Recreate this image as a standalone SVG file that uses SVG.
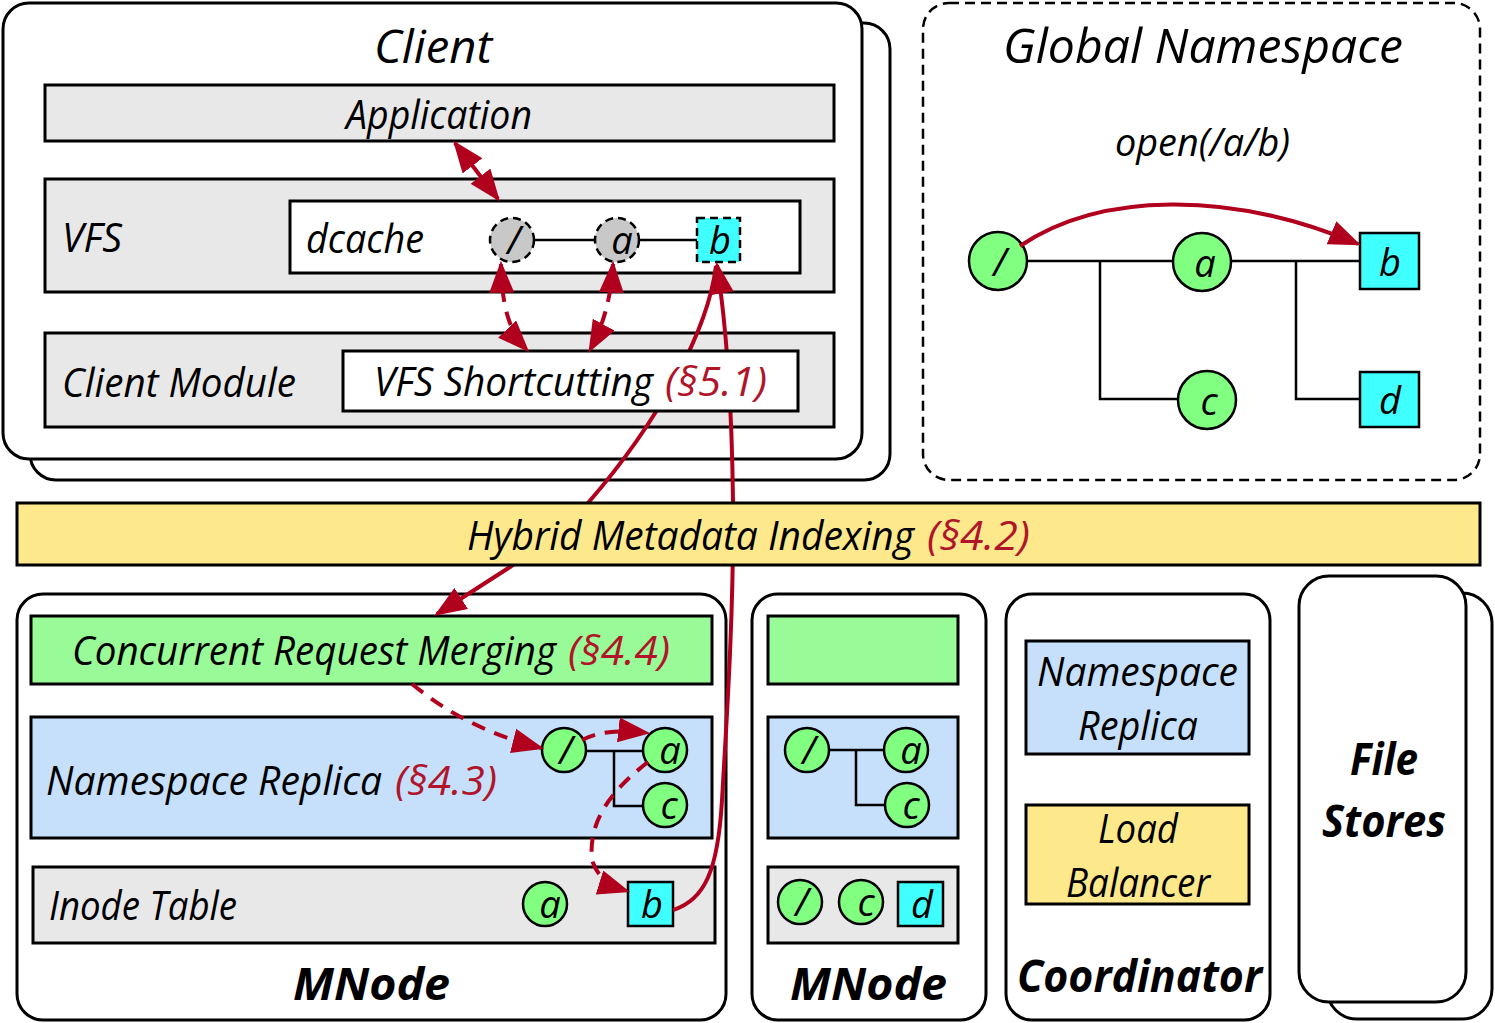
<svg xmlns="http://www.w3.org/2000/svg" width="1495" height="1023" viewBox="0 0 1495 1023">
<defs>
<style>
.t{font-family:"Open Sans","Lato","DejaVu Sans",sans-serif;font-style:italic;fill:#000}
.r{fill:#b0152a}
.bd{font-weight:bold}
.card{fill:#fff;stroke:#000;stroke-width:3}
.bar{stroke:#000;stroke-width:3}
.gray{fill:#e8e8e8}
.green{fill:#98fb98}
.blue{fill:#c6e0fb}
.yellow{fill:#fde98c}
.wh{fill:#fff}
.nd{fill:#80ff80;stroke:#000;stroke-width:2.5}
.sq{fill:#40ffff;stroke:#000;stroke-width:2.5}
.cnd{fill:#c8c8c8;stroke:#000;stroke-width:2.5;stroke-dasharray:8 5}
.csq{fill:#40ffff;stroke:#000;stroke-width:2.5;stroke-dasharray:8 5}
.ln{stroke:#000;stroke-width:2.5;fill:none}
.arr{stroke:#b0001e;stroke-width:4;fill:none}
.dash{stroke-dasharray:14 10}
.lt{font-size:38px;text-anchor:middle}
</style>
<marker id="ah" viewBox="0 0 10 10" refX="9" refY="5" markerUnits="userSpaceOnUse" markerWidth="32" markerHeight="25" preserveAspectRatio="none" orient="auto-start-reverse">
<path d="M0,0 L10,5 L0,10 z" fill="#b0001e"/>
</marker>
</defs>

<g id="client">
<rect class="card" x="30" y="23" width="860" height="457" rx="26"/>
<rect class="card" x="3" y="3" width="859" height="456" rx="26"/>
<text class="t" x="374" y="63" font-size="46" textLength="118" lengthAdjust="spacingAndGlyphs">Client</text>
</g>
<g id="application">
<rect class="bar gray" x="45" y="85" width="789" height="56"/>
<text class="t" x="346" y="129" font-size="40" textLength="186" lengthAdjust="spacingAndGlyphs">Application</text>
</g>
<g id="vfs">
<rect class="bar gray" x="45" y="179" width="789" height="113"/>
<text class="t" x="62" y="252" font-size="40" textLength="60" lengthAdjust="spacingAndGlyphs">VFS</text>
</g>
<g id="dcache">
<rect class="bar wh" x="290" y="201" width="510" height="72"/>
<text class="t" x="306" y="253" font-size="40" textLength="118" lengthAdjust="spacingAndGlyphs">dcache</text>
<line class="ln" x1="534" y1="240" x2="595" y2="240"/>
<line class="ln" x1="639" y1="240" x2="697" y2="240"/>
<circle class="cnd" cx="512" cy="240" r="22"/>
<text class="t lt" x="514" y="254">/</text>
<circle class="cnd" cx="617" cy="240" r="22"/>
<text class="t lt" x="622" y="254">a</text>
<rect class="csq" x="697" y="218" width="43" height="44"/>
<text class="t lt" x="720" y="254">b</text>
</g>
<g id="client-module">
<rect class="bar gray" x="45" y="333" width="789" height="94"/>
<text class="t" x="62" y="397" font-size="40" textLength="234" lengthAdjust="spacingAndGlyphs">Client Module</text>
</g>

<g id="global-namespace">
<rect x="923" y="3" width="557" height="477" rx="26" fill="#fff" stroke="#000" stroke-width="2.5" stroke-dasharray="10 6"/>
<text class="t" x="1003" y="63" font-size="48" textLength="400" lengthAdjust="spacingAndGlyphs">Global Namespace</text>
<text class="t" x="1115" y="156" font-size="38" textLength="175" lengthAdjust="spacingAndGlyphs">open(/a/b)</text>
<polyline class="ln" points="1027,261 1173,261"/>
<polyline class="ln" points="1100,261 1100,399 1178,399"/>
<polyline class="ln" points="1231,261 1360,261"/>
<polyline class="ln" points="1296,261 1296,399 1360,399"/>
<circle class="nd" cx="998" cy="261" r="29"/>
<text class="t lt" x="1000" y="276">/</text>
<circle class="nd" cx="1202" cy="262" r="29"/>
<text class="t lt" x="1205" y="277">a</text>
<circle class="nd" cx="1207" cy="400" r="29"/>
<text class="t lt" x="1209" y="415">c</text>
<rect class="sq" x="1360" y="233" width="59" height="56"/>
<text class="t lt" x="1390" y="276">b</text>
<rect class="sq" x="1360" y="372" width="59" height="55"/>
<text class="t lt" x="1390" y="414">d</text>
</g>

<g id="mnode-1">
<rect class="card" x="17" y="594" width="709" height="426" rx="26"/>
<rect class="bar green" x="31" y="616" width="681" height="68"/>
<text class="t" x="72" y="665" font-size="40" textLength="484" lengthAdjust="spacingAndGlyphs">Concurrent Request Merging</text>
<text class="t r" x="568" y="665" font-size="40" textLength="102" lengthAdjust="spacingAndGlyphs">(§4.4)</text>
<rect class="bar blue" x="31" y="717" width="681" height="121"/>
<text class="t" x="46" y="795" font-size="40" textLength="336" lengthAdjust="spacingAndGlyphs">Namespace Replica</text>
<text class="t r" x="395" y="795" font-size="40" textLength="102" lengthAdjust="spacingAndGlyphs">(§4.3)</text>
<polyline class="ln" points="587,751 643,751"/>
<polyline class="ln" points="614,751 614,806 643,806"/>
<circle class="nd" cx="564" cy="750" r="22"/>
<text class="t lt" x="566" y="764">/</text>
<circle class="nd" cx="665" cy="750" r="22"/>
<text class="t lt" x="670" y="764">a</text>
<circle class="nd" cx="665" cy="805" r="22"/>
<text class="t lt" x="669" y="819">c</text>
<rect class="bar gray" x="33" y="867" width="682" height="76"/>
<text class="t" x="49" y="920" font-size="40" textLength="188" lengthAdjust="spacingAndGlyphs">Inode Table</text>
<circle class="nd" cx="545" cy="904" r="22"/>
<text class="t lt" x="550" y="918">a</text>
<rect class="sq" x="628" y="882" width="45" height="44"/>
<text class="t lt" x="652" y="918">b</text>
<text class="t bd" x="293" y="1000" font-size="44" textLength="157" lengthAdjust="spacingAndGlyphs">MNode</text>
</g>

<g id="mnode-2">
<rect class="card" x="752" y="594" width="234" height="426" rx="26"/>
<rect class="bar green" x="768" y="616" width="190" height="68"/>
<rect class="bar blue" x="768" y="717" width="190" height="121"/>
<polyline class="ln" points="828,750 885,750"/>
<polyline class="ln" points="856,750 856,805 885,805"/>
<circle class="nd" cx="807" cy="750" r="22"/>
<text class="t lt" x="809" y="764">/</text>
<circle class="nd" cx="906" cy="750" r="22"/>
<text class="t lt" x="911" y="764">a</text>
<circle class="nd" cx="907" cy="805" r="22"/>
<text class="t lt" x="911" y="819">c</text>
<rect class="bar gray" x="768" y="867" width="190" height="76"/>
<circle class="nd" cx="800" cy="902" r="22"/>
<text class="t lt" x="802" y="916">/</text>
<circle class="nd" cx="861" cy="902" r="22"/>
<text class="t lt" x="866" y="916">c</text>
<rect class="sq" x="898" y="882" width="45" height="44"/>
<text class="t lt" x="922" y="918">d</text>
<text class="t bd" x="790" y="1000" font-size="44" textLength="157" lengthAdjust="spacingAndGlyphs">MNode</text>
</g>

<g id="coordinator">
<rect class="card" x="1006" y="594" width="264" height="426" rx="26"/>
<rect class="bar blue" x="1026" y="641" width="223" height="113"/>
<text class="t" x="1037" y="686" font-size="40" textLength="201" lengthAdjust="spacingAndGlyphs">Namespace</text>
<text class="t" x="1078" y="740" font-size="40" textLength="120" lengthAdjust="spacingAndGlyphs">Replica</text>
<rect class="bar yellow" x="1026" y="805" width="223" height="99"/>
<text class="t" x="1098" y="843" font-size="40" textLength="80" lengthAdjust="spacingAndGlyphs">Load</text>
<text class="t" x="1066" y="897" font-size="40" textLength="144" lengthAdjust="spacingAndGlyphs">Balancer</text>
<text class="t bd" x="1017" y="992" font-size="44" textLength="245" lengthAdjust="spacingAndGlyphs">Coordinator</text>
</g>

<g id="file-stores">
<rect class="card" x="1327" y="593" width="165" height="426" rx="30"/>
<rect class="card" x="1299" y="576" width="167" height="426" rx="30"/>
<text class="t bd" x="1350" y="775" font-size="44" textLength="68" lengthAdjust="spacingAndGlyphs">File</text>
<text class="t bd" x="1322" y="837" font-size="44" textLength="124" lengthAdjust="spacingAndGlyphs">Stores</text>
</g>

<g id="connectors-under">
<path class="arr" d="M716,266 C708,330 660,420 588,503 Q548,540 510,567 L437,614" marker-end="url(#ah)"/>
<path class="arr" d="M673,910 C705,900 718,870 722,800 C728,700 734,600 733,500 C732,420 727,330 717,265" marker-end="url(#ah)"/>
</g>

<g id="vfs-shortcutting">
<rect class="bar wh" x="343" y="351" width="455" height="60"/>
<text class="t" x="374" y="396" font-size="40" textLength="279" lengthAdjust="spacingAndGlyphs">VFS Shortcutting</text>
<text class="t r" x="665" y="396" font-size="40" textLength="102" lengthAdjust="spacingAndGlyphs">(§5.1)</text>
</g>

<g id="hybrid-metadata-indexing">
<rect class="bar yellow" x="17" y="503" width="1463" height="62"/>
<text class="t" x="467" y="550" font-size="40" textLength="447" lengthAdjust="spacingAndGlyphs">Hybrid Metadata Indexing</text>
<text class="t r" x="927" y="550" font-size="40" textLength="103" lengthAdjust="spacingAndGlyphs">(§4.2)</text>
</g>

<g id="connectors">
<path class="arr" d="M455,143 L498,199" marker-start="url(#ah)" marker-end="url(#ah)"/>
<path class="arr dash" d="M501,264 C502,305 508,330 527,350" marker-start="url(#ah)" marker-end="url(#ah)"/>
<path class="arr dash" d="M613,264 C611,300 602,328 590,350" marker-start="url(#ah)" marker-end="url(#ah)"/>
<path class="arr" d="M1020,246 C1100,192 1230,190 1358,244" marker-end="url(#ah)"/>
<path class="arr dash" d="M412,684 C450,715 490,735 541,748" marker-end="url(#ah)"/>
<path class="arr dash" d="M582,740 C600,731 620,730 647,733" marker-end="url(#ah)"/>
<path class="arr dash" d="M648,762 C612,790 588,820 592,860 Q598,882 627,891" marker-end="url(#ah)"/>
</g>
</svg>
